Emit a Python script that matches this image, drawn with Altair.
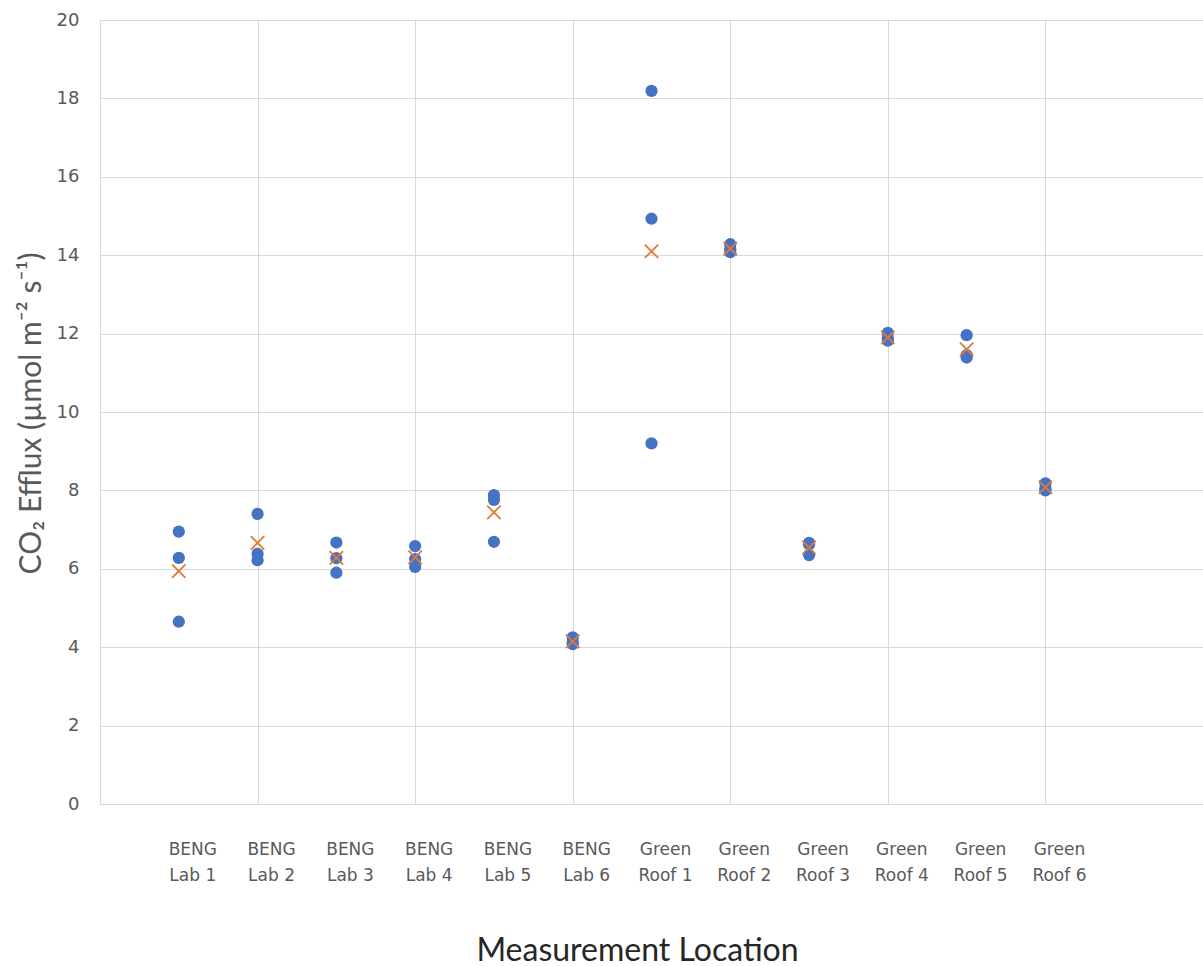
import altair as alt
import pandas as pd

# Measurement locations (x position 1..12) and their labels
locations = ["BENG\nLab 1", "BENG\nLab 2", "BENG\nLab 3", "BENG\nLab 4", "BENG\nLab 5", "BENG\nLab 6",
             "Green\nRoof 1", "Green\nRoof 2", "Green\nRoof 3", "Green\nRoof 4", "Green\nRoof 5", "Green\nRoof 6"]
positions = [1, 2, 3, 4, 5, 6, 7, 8, 9, 10, 11, 12]

rep1 = [6.95, 7.40, 6.67, 6.58, 7.88, 4.25, 18.19, 14.28, 6.66, 12.02, 11.96, 8.18]
rep2 = [6.28, 6.38, 6.27, 6.25, 7.76, 4.12, 14.93, 14.15, 6.62, 11.88, 11.45, 8.05]
rep3 = [4.65, 6.22, 5.90, 6.05, 6.69, 4.08, 9.20, 14.08, 6.35, 11.82, 11.39, 8.00]

# Location averages (orange crosses)
means = [5.94, 6.66, 6.28, 6.29, 7.44, 4.15, 14.10, 14.17, 6.54, 11.90, 11.60, 8.08]

y_ticks = [0, 2, 4, 6, 8, 10, 12, 14, 16, 18, 20]
x_grid = [0, 2, 4, 6, 8, 10, 12, 14]

pts = pd.DataFrame({
    "pos": positions * 3,
    "flux": rep1 + rep2 + rep3,
})
avg = pd.DataFrame({"pos": positions, "flux": means})
lab = pd.DataFrame({"pos": positions, "label": locations})

W, H = 1103, 784

xscale = alt.Scale(domain=[0, 14], nice=False, zero=False)
yscale = alt.Scale(domain=[0, 20], nice=False)

x_axis = alt.Axis(values=x_grid, grid=True, labels=False, ticks=False, domain=False,
                  gridColor="#d9d9d9", gridWidth=1,
                  title="Measurement Location", titleFont="Lato", titleFontSize=32,
                  titleFontWeight="normal", titleColor="#262626",
                  titleX=537, titleY=146, titleAlign="center", titleBaseline="middle")
y_axis = alt.Axis(values=y_ticks, grid=True, ticks=False, domain=False,
                  gridColor="#d9d9d9", gridWidth=1,
                  labelFont="DejaVu Sans", labelFontSize=18, labelColor="#595959",
                  labelPadding=21,
                  title="CO₂ Efflux (µmol m⁻² s⁻¹)", titleFont="Lato", titleFontSize=30,
                  titleFontWeight="normal", titleColor="#595959",
                  titleX=-69, titleY=393, titleAngle=-90, titleAlign="center",
                  titleBaseline="middle")

points = alt.Chart(pts).mark_circle(size=150, color="#4472C4", opacity=1).encode(
    x=alt.X("pos:Q", scale=xscale, axis=x_axis),
    y=alt.Y("flux:Q", scale=yscale, axis=y_axis),
)

crosses = alt.Chart(avg).mark_point(
    shape="M-1,-1L1,1M1,-1L-1,1", filled=False, stroke="#E07A35",
    strokeWidth=1.8, size=180, opacity=1
).encode(
    x=alt.X("pos:Q", scale=xscale),
    y=alt.Y("flux:Q", scale=yscale),
)

labels = alt.Chart(lab).mark_text(
    lineBreak="\n", font="DejaVu Sans", fontSize=17, color="#595959",
    baseline="top", align="center", lineHeight=26, dx=14
).encode(
    x=alt.X("pos:Q", scale=xscale),
    y=alt.value(H + 38),
    text="label:N",
)

chart = alt.layer(points, crosses, labels).properties(
    width=W, height=H,
    autosize=alt.AutoSizeParams(type="none"),
    padding={"left": 100, "top": 20, "right": 0, "bottom": 162},
).configure_view(stroke=None).configure(background="white")

chart.save("out.html", embed_options={"renderer": "svg", "actions": False})
